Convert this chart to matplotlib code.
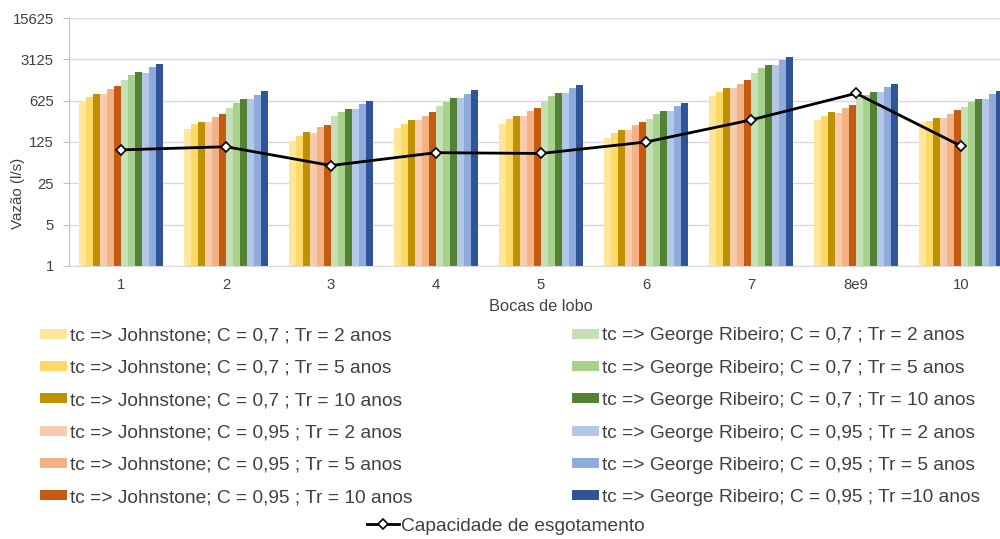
import numpy as np
import matplotlib
matplotlib.use('Agg')
import matplotlib.pyplot as plt
from matplotlib.ticker import NullLocator

plt.rcParams['font.family'] = ['Liberation Sans', 'DejaVu Sans']

# bocas de lobo (categorias do eixo x)
bocas = ['1', '2', '3', '4', '5', '6', '7', '8e9', '10']

# vazões (l/s) - tc => Johnstone
john_07_tr2 = [620, 208, 132, 213, 255, 148, 750, 291, 272]
john_07_tr5 = [720, 249, 160, 255, 306, 175, 883, 348, 283]
john_07_tr10 = [800, 276, 182, 291, 348, 202, 1024, 397, 314]
john_095_tr2 = [800, 276, 177, 291, 348, 202, 1024, 387, 314]
john_095_tr5 = [980, 327, 221, 348, 418, 242, 1210, 475, 377]
john_095_tr10 = [1110, 377, 242, 397, 476, 276, 1382, 528, 430]

# vazões (l/s) - tc => George Ribeiro
geo_07_tr2 = [1400, 475, 340, 502, 617, 306, 1860, 686, 489]
geo_07_tr5 = [1680, 571, 407, 601, 740, 367, 2232, 779, 587]
geo_07_tr10 = [1900, 659, 457, 685, 853, 418, 2540, 885, 668]
geo_095_tr2 = [1870, 659, 457, 685, 853, 418, 2540, 885, 668]
geo_095_tr5 = [2300, 779, 549, 820, 1024, 502, 3045, 1077, 811]
geo_095_tr10 = [2560, 900, 625, 946, 1136, 571, 3380, 1210, 900]

# capacidade de esgotamento (l/s)
capacidade = [92, 104, 50, 82.5, 80, 125, 295, 832, 107]

series = [john_07_tr2, john_07_tr5, john_07_tr10, john_095_tr2, john_095_tr5, john_095_tr10,
          geo_07_tr2, geo_07_tr5, geo_07_tr10, geo_095_tr2, geo_095_tr5, geo_095_tr10]
labels = ['tc => Johnstone; C = 0,7 ; Tr = 2 anos',
          'tc => Johnstone; C = 0,7 ; Tr = 5 anos',
          'tc => Johnstone; C = 0,7 ; Tr = 10 anos',
          'tc => Johnstone; C = 0,95 ; Tr = 2 anos',
          'tc => Johnstone; C = 0,95 ; Tr = 5 anos',
          'tc => Johnstone; C = 0,95 ; Tr = 10 anos',
          'tc => George Ribeiro; C = 0,7 ; Tr = 2 anos',
          'tc => George Ribeiro; C = 0,7 ; Tr = 5 anos',
          'tc => George Ribeiro; C = 0,7 ; Tr = 10 anos',
          'tc => George Ribeiro; C = 0,95 ; Tr = 2 anos',
          'tc => George Ribeiro; C = 0,95 ; Tr = 5 anos',
          'tc => George Ribeiro; C = 0,95 ; Tr =10 anos']
cores = ['#FFE699', '#FFD966', '#BF9000', '#F8CBAD', '#F4B183', '#C55A11',
         '#C5E0B4', '#A9D18E', '#548235', '#B4C7E7', '#8FAADC', '#2F5597']

txt = '#404040'
fig = plt.figure(figsize=(10, 5.39), dpi=100)
ax = fig.add_axes([0.0685, 0.5065, 0.945, 0.4601])
ax.set_yscale('log', base=5)

x = np.arange(len(bocas))
w = 0.8 / len(series)
bars = []
for j, (vals, lab, cor) in enumerate(zip(series, labels, cores)):
    b = ax.bar(x + (j - 5.5) * w, vals, w, color=cor, label=lab, zorder=2)
    bars.append(b)

linha, = ax.plot(x, capacidade, color='black', lw=2, marker='D', markersize=5.5,
                 markerfacecolor='white', markeredgecolor='black', markeredgewidth=1.2,
                 label='Capacidade de esgotamento', zorder=3)

yt = [1, 5, 25, 125, 625, 3125, 15625]
ax.set_ylim(1, 15625)
ax.set_yticks(yt)
ax.set_yticklabels([str(v) for v in yt])
ax.yaxis.set_minor_locator(NullLocator())
ax.set_xlim(-0.5, len(bocas) - 0.5)
ax.set_xticks(x)
ax.set_xticklabels(bocas)
ax.grid(axis='y', color='#D9D9D9', lw=1, zorder=0)
ax.set_axisbelow(True)
for s in ['top', 'right']:
    ax.spines[s].set_visible(False)
ax.spines['left'].set_color('#BFBFBF')
ax.spines['bottom'].set_color('#D9D9D9')
ax.tick_params(axis='y', length=4, color='#BFBFBF', pad=6.5, labelsize=10.7, labelcolor=txt)
ax.tick_params(axis='x', length=0, pad=9, labelsize=10.7, labelcolor=txt)

ax.set_ylabel('Vazão (l/s)', fontsize=10.9, color=txt, va='center')
ax.yaxis.set_label_coords(-0.053, 0.294)
ax.set_xlabel('Bocas de lobo', fontsize=11.8, color=txt, va='center')
ax.xaxis.set_label_coords(0.5, -0.165)

kw = dict(frameon=False, fontsize=13.8, handlelength=1.4, handleheight=0.43,
          handletextpad=0.16, labelspacing=0.8, borderpad=0, borderaxespad=0,
          labelcolor=txt)
leg1 = fig.legend(bars[:6], labels[:6], loc='upper left',
                  bbox_to_anchor=(0.040, 1 - 327.5 / 539), **kw)
leg2 = fig.legend(bars[6:], labels[6:], loc='upper left',
                  bbox_to_anchor=(0.572, 1 - 327.5 / 539), **kw)
leg3 = fig.legend([linha], ['Capacidade de esgotamento'], loc='upper center',
                  bbox_to_anchor=(0.506, 1 - 517.5 / 539), frameon=False, fontsize=13.8,
                  handlelength=1.67, handletextpad=0.1, borderpad=0, borderaxespad=0,
                  labelcolor=txt)

fig.savefig('out.png', dpi=100)
